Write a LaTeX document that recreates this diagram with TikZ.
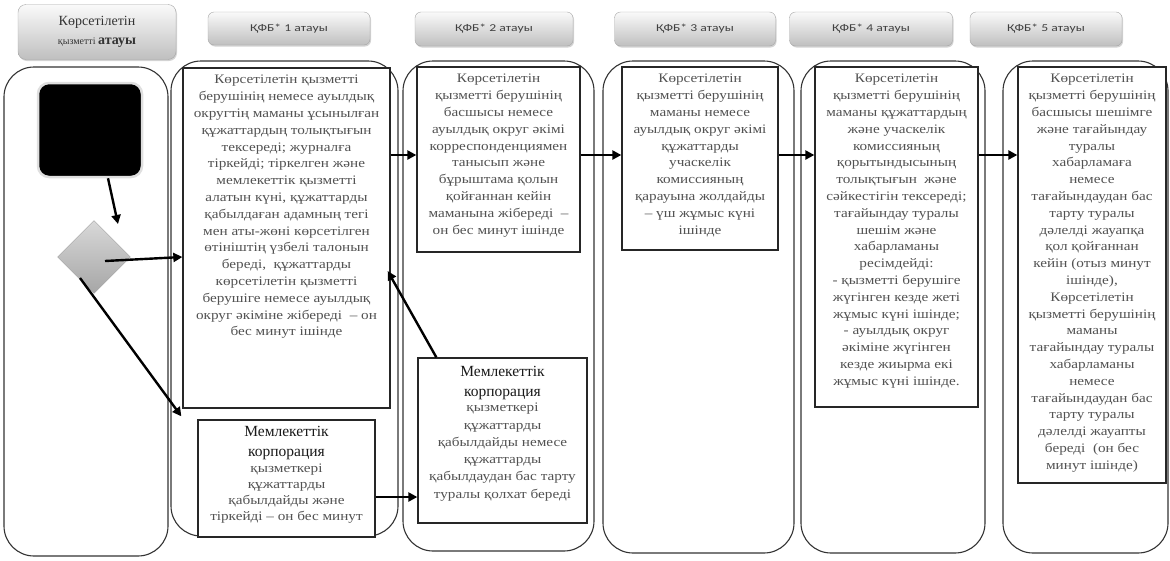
\documentclass[tikz,border=0pt]{standalone}
\usepackage{fontspec}
\setmainfont[FakeStretch=1.17]{Liberation Serif}
\newfontfamily\ttlfont{Liberation Serif}
\newfontfamily\hdrfont[FakeStretch=1.3]{Carlito}
\usetikzlibrary{arrows.meta,shadows,shapes.geometric,calc}
\begin{document}
\begin{tikzpicture}[x=1pt,y=-1pt,
 hdr/.style={draw=gray!70, rounded corners=6pt, top color=gray!4, bottom color=gray!50,
   drop shadow={shadow xshift=1pt,shadow yshift=-1.5pt,opacity=0.35},
   font=\hdrfont\fontsize{10.5}{12}\selectfont, text=black!75, inner sep=0},
 lane/.style={draw=black!80, line width=1.1pt, rounded corners=30pt},
 procbox/.style={draw=black!85, line width=1.3pt, fill=white, inner sep=0},
 body/.style={font=\fontsize{13}{16.8}\selectfont, text=black!68, align=center, anchor=north, inner sep=0},
 ttl/.style={font=\ttlfont\fontsize{15.5}{20}\selectfont, text=black!90, align=center, anchor=north, inner sep=0},
 arr/.style={line width=2.4pt, -{Triangle[length=9pt,width=9pt]}}]
\useasboundingbox (0,0) rectangle (1170,560);

% headers
\node[hdr, minimum width=158pt, minimum height=55pt, rounded corners=8pt, align=center,
  font=\ttlfont\fontsize{14}{19}\selectfont, text=black!80] (h0) at (97,32) {Көрсетілетін\\{\fontsize{10}{12}\selectfont қызметті }\textbf{атауы}};
\node[hdr, minimum width=162pt, minimum height=33pt] (h1) at (289,28.5) {ҚФБ* 1 атауы};
\node[hdr, minimum width=158pt, minimum height=34pt] (h2) at (494,29) {ҚФБ* 2 атауы};
\node[hdr, minimum width=161pt, minimum height=34pt] (h3) at (695,29) {ҚФБ* 3 атауы};
\node[hdr, minimum width=163pt, minimum height=34pt] (h4) at (871,29) {ҚФБ* 4 атауы};
\node[hdr, minimum width=152pt, minimum height=34pt] (h5) at (1046,29) {ҚФБ* 5 атауы};

% lanes
\draw[lane] (4,67) rectangle (168,556);
\draw[lane] (171,61) rectangle (398,536);
\draw[lane] (403,61) rectangle (594,551);
\draw[lane] (603,61) rectangle (794,553);
\draw[lane] (801,61) rectangle (985,553);
\draw[lane] (1003,61) rectangle (1168,553);

% start and decision
\node[fill=black, draw=gray!25, line width=2.5pt, rounded corners=11pt, minimum width=104pt, minimum height=94pt, inner sep=0] (blk) at (90,130) {};
\node[diamond, draw=gray!75, top color=gray!30, bottom color=gray!70, minimum width=73pt, minimum height=73pt, inner sep=0] (dia) at (94,257) {};
\coordinate (dtip) at (118,224);

% process boxes
\node[procbox, minimum width=207pt, minimum height=340pt] (b1) at (286.5,238) {};
\node[procbox, minimum width=177pt, minimum height=117pt] (b1b) at (286.5,478.5) {};
\node[procbox, minimum width=163pt, minimum height=185pt] (b2) at (498.5,159.5) {};
\node[procbox, minimum width=169pt, minimum height=165pt] (b2b) at (502.5,440.5) {};
\node[procbox, minimum width=156pt, minimum height=183pt] (b3) at (700,158.5) {};
\node[procbox, minimum width=163pt, minimum height=340pt] (b4) at (896.5,237) {};
\node[procbox, minimum width=148pt, minimum height=416pt] (b5) at (1092,275) {};

% texts
\node[body] (t1) at (286.5,75) {Көрсетілетін қызметті\\берушінің немесе ауылдық\\округтің маманы ұсынылған\\құжаттардың толықтығын\\тексереді; журналға\\тіркейді; тіркелген және\\мемлекеттік қызметті\\алатын күні, құжаттарды\\қабылдаған адамның тегі\\мен аты-жөні көрсетілген\\өтініштің үзбелі талонын\\береді,\ \ құжаттарды\\көрсетілетін қызметті\\берушіге немесе ауылдық\\округ әкіміне жібереді\ \ – он\\бес минут ішінде};
\node[ttl] (s1b) at (286.5,426) {Мемлекеттік\\корпорация};
\node[body, font=\fontsize{13}{16}\selectfont] (t1b) at ($(s1b.south)+(0,4)$) {қызметкері\\құжаттарды\\қабылдайды және\\тіркейді – он бес минут};
\node[body] (t2) at (498.5,74) {Көрсетілетін\\қызметті берушінің\\басшысы немесе\\ауылдық округ әкімі\\корреспонденциямен\\танысып және\\бұрыштама қолын\\қойғаннан кейін\\маманына жібереді\ \ –\\он бес минут ішінде};
\node[ttl] (s2b) at (502.5,366) {Мемлекеттік\\корпорация};
\node[body, font=\fontsize{13}{17.3}\selectfont] (t2b) at ($(s2b.south)+(0,3)$) {қызметкері\\құжаттарды\\қабылдайды немесе\\құжаттарды\\қабылдаудан бас тарту\\туралы қолхат береді};
\node[body] (t3) at (700,74) {Көрсетілетін\\қызметті берушінің\\маманы немесе\\ауылдық округ әкімі\\құжаттарды\\учаскелік\\комиссияның\\қарауына жолдайды\\– үш жұмыс күні\\ішінде};
\node[body] (t4) at (896.5,74) {Көрсетілетін\\қызметті берушінің\\маманы құжаттардың\\және учаскелік\\комиссияның\\қорытындысының\\толықтығын\ \ және\\сәйкестігін тексереді;\\тағайындау туралы\\шешім және\\хабарламаны\\ресімдейді:\\- қызметті берушіге\\жүгінген кезде жеті\\жұмыс күні ішінде;\\- ауылдық округ\\әкіміне жүгінген\\кезде жиырма екі\\жұмыс күні ішінде.};
\node[body] (t5) at (1092,74) {Көрсетілетін\\қызметті берушінің\\басшысы шешімге\\және тағайындау\\туралы\\хабарламаға\\немесе\\тағайындаудан бас\\тарту туралы\\дәлелді жауапқа\\қол қойғаннан\\кейін (отыз минут\\ішінде),\\Көрсетілетін\\қызметті берушінің\\маманы\\тағайындау туралы\\хабарламаны\\немесе\\тағайындаудан бас\\тарту туралы\\дәлелді жауапты\\береді\ \ (он бес\\минут ішінде)};

% connectors
\draw[arr] ([xshift=18pt]blk.south) -- (dtip);
\draw[arr] ($(dia.center)+(11,4)$) -- (dia.center -| b1.west);
\draw[arr] ($(dia.center)+(-14,21)$) -- ($(b1b.north west)+(-16,-3)$);
\draw[arr] (b1.east |- 0,155) -- (b2.west |- 0,155);
\draw[arr] (b2.east |- 0,155) -- (b3.west |- 0,155);
\draw[arr] (b3.east |- 0,155) -- (b4.west |- 0,155);
\draw[arr] (b4.east |- 0,155) -- (b5.west |- 0,155);
\draw[arr] (b1b.east |- 0,497) -- (b2b.west |- 0,497);
\draw[arr] ($(b2b.north west)+(19,0)$) -- ($(b1.east)+(-3,33)$);
\end{tikzpicture}
\end{document}
